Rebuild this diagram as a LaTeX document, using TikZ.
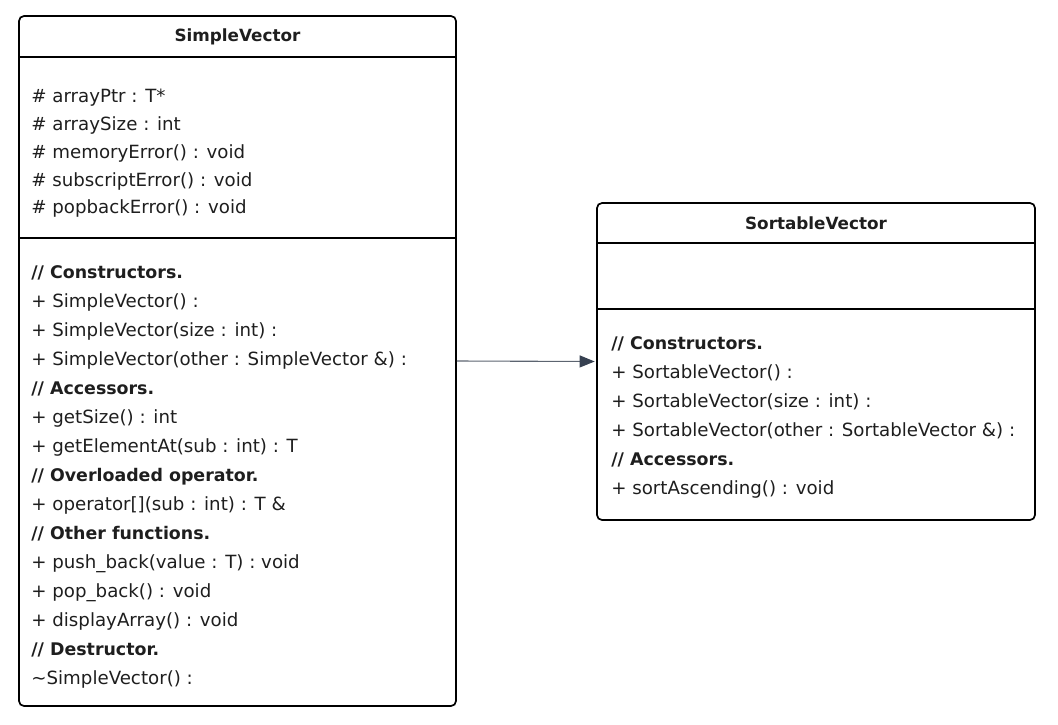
\documentclass[tikz,border=0pt]{standalone}
\usepackage{fontspec}
\setmainfont{DejaVu Sans}
\usetikzlibrary{positioning,arrows.meta}
\definecolor{linegray}{RGB}{92,100,112}
\definecolor{tipgray}{RGB}{55,65,81}
\definecolor{textdark}{RGB}{30,30,30}
\tikzstyle{cls_box}=[rectangle, rounded corners=5pt, draw=black, line width=1.7pt, inner sep=0pt]
\tikzstyle{cls_name}=[font=\fontsize{16.8}{18}\selectfont\bfseries, text=textdark, inner sep=0pt]
\tikzstyle{member}=[anchor=north west, inner sep=0pt, text height=12pt, text depth=4pt, text=textdark, font=\fontsize{18.2}{18}\selectfont]
\tikzstyle{note}=[member, font=\fontsize{17.4}{18}\selectfont\bfseries]
\tikzstyle{sep}=[draw=black, line width=1.7pt]
\tikzstyle{arrow}=[-{Triangle[length=15pt,width=12pt,color=tipgray]}, draw=linegray, line width=1.1pt, shorten >=1.5pt]

\begin{document}
\begin{tikzpicture}[x=1pt,y=1pt]
\useasboundingbox (0,0) rectangle (1058,-724);

% class boxes
\node[cls_box, minimum width=437pt, minimum height=690pt] (simple) at (237.5,-361) {};
\node[cls_box, minimum width=438pt, minimum height=317pt] (sortable) at (816,-361.5) {};

% compartments
\draw[sep] ([yshift=-42pt]simple.north west) -- ([yshift=-42pt]simple.north east);
\draw[sep] ([yshift=-223pt]simple.north west) -- ([yshift=-223pt]simple.north east);
\draw[sep] ([yshift=-41pt]sortable.north west) -- ([yshift=-41pt]sortable.north east);
\draw[sep] ([yshift=-107pt]sortable.north west) -- ([yshift=-107pt]sortable.north east);

\node[cls_name] (simple_name) at ([yshift=-21.5pt]simple.north) {SimpleVector};
\node[cls_name] (sortable_name) at ([yshift=-21pt]sortable.north) {SortableVector};

% SimpleVector attributes
\node[member] (sv_a1) at ([xshift=13pt,yshift=-75pt]simple.north west) {\# arrayPtr : T*};
\node[member] (sv_a2) [below=11.5pt of sv_a1.south west, anchor=north west] {\# arraySize : int};
\node[member] (sv_a3) [below=11.5pt of sv_a2.south west, anchor=north west] {\# memoryError() : void};
\node[member] (sv_a4) [below=11.5pt of sv_a3.south west, anchor=north west] {\# subscriptError() : void};
\node[member] (sv_a5) [below=11.5pt of sv_a4.south west, anchor=north west] {\# popbackError() : void};

% SimpleVector operations
\node[note] (sv_o1) at ([xshift=13pt,yshift=-251pt]simple.north west) {// Constructors.};
\node[member] (sv_o2) [below=12.6pt of sv_o1.south west, anchor=north west] {+ SimpleVector() :};
\node[member] (sv_o3) [below=12.6pt of sv_o2.south west, anchor=north west] {+ SimpleVector(size : int) :};
\node[member] (sv_o4) [below=12.6pt of sv_o3.south west, anchor=north west] {+ SimpleVector(other : SimpleVector \&) :};
\node[note] (sv_o5) [below=12.6pt of sv_o4.south west, anchor=north west] {// Accessors.};
\node[member] (sv_o6) [below=12.6pt of sv_o5.south west, anchor=north west] {+ getSize() : int};
\node[member] (sv_o7) [below=12.6pt of sv_o6.south west, anchor=north west] {+ getElementAt(sub : int) : T};
\node[note] (sv_o8) [below=12.6pt of sv_o7.south west, anchor=north west] {// Overloaded operator.};
\node[member] (sv_o9) [below=12.6pt of sv_o8.south west, anchor=north west] {+ operator[](sub : int) : T \&};
\node[note] (sv_o10) [below=12.6pt of sv_o9.south west, anchor=north west] {// Other functions.};
\node[member] (sv_o11) [below=12.6pt of sv_o10.south west, anchor=north west] {+ push\_back(value : T) : void};
\node[member] (sv_o12) [below=12.6pt of sv_o11.south west, anchor=north west] {+ pop\_back() : void};
\node[member] (sv_o13) [below=12.6pt of sv_o12.south west, anchor=north west] {+ displayArray() : void};
\node[note] (sv_o14) [below=12.6pt of sv_o13.south west, anchor=north west] {// Destructor.};
\node[member] (sv_o15) [below=12.6pt of sv_o14.south west, anchor=north west] {\textasciitilde SimpleVector() :};

% SortableVector operations
\node[note] (st_o1) at ([xshift=15pt,yshift=-135pt]sortable.north west) {// Constructors.};
\node[member] (st_o2) [below=12.6pt of st_o1.south west, anchor=north west] {+ SortableVector() :};
\node[member] (st_o3) [below=12.6pt of st_o2.south west, anchor=north west] {+ SortableVector(size : int) :};
\node[member] (st_o4) [below=12.6pt of st_o3.south west, anchor=north west] {+ SortableVector(other : SortableVector \&) :};
\node[note] (st_o5) [below=12.6pt of st_o4.south west, anchor=north west] {// Accessors.};
\node[member] (st_o6) [below=12.6pt of st_o5.south west, anchor=north west] {+ sortAscending() : void};

\draw[arrow] (simple.east) -- (sortable.west);
\end{tikzpicture}
\end{document}
